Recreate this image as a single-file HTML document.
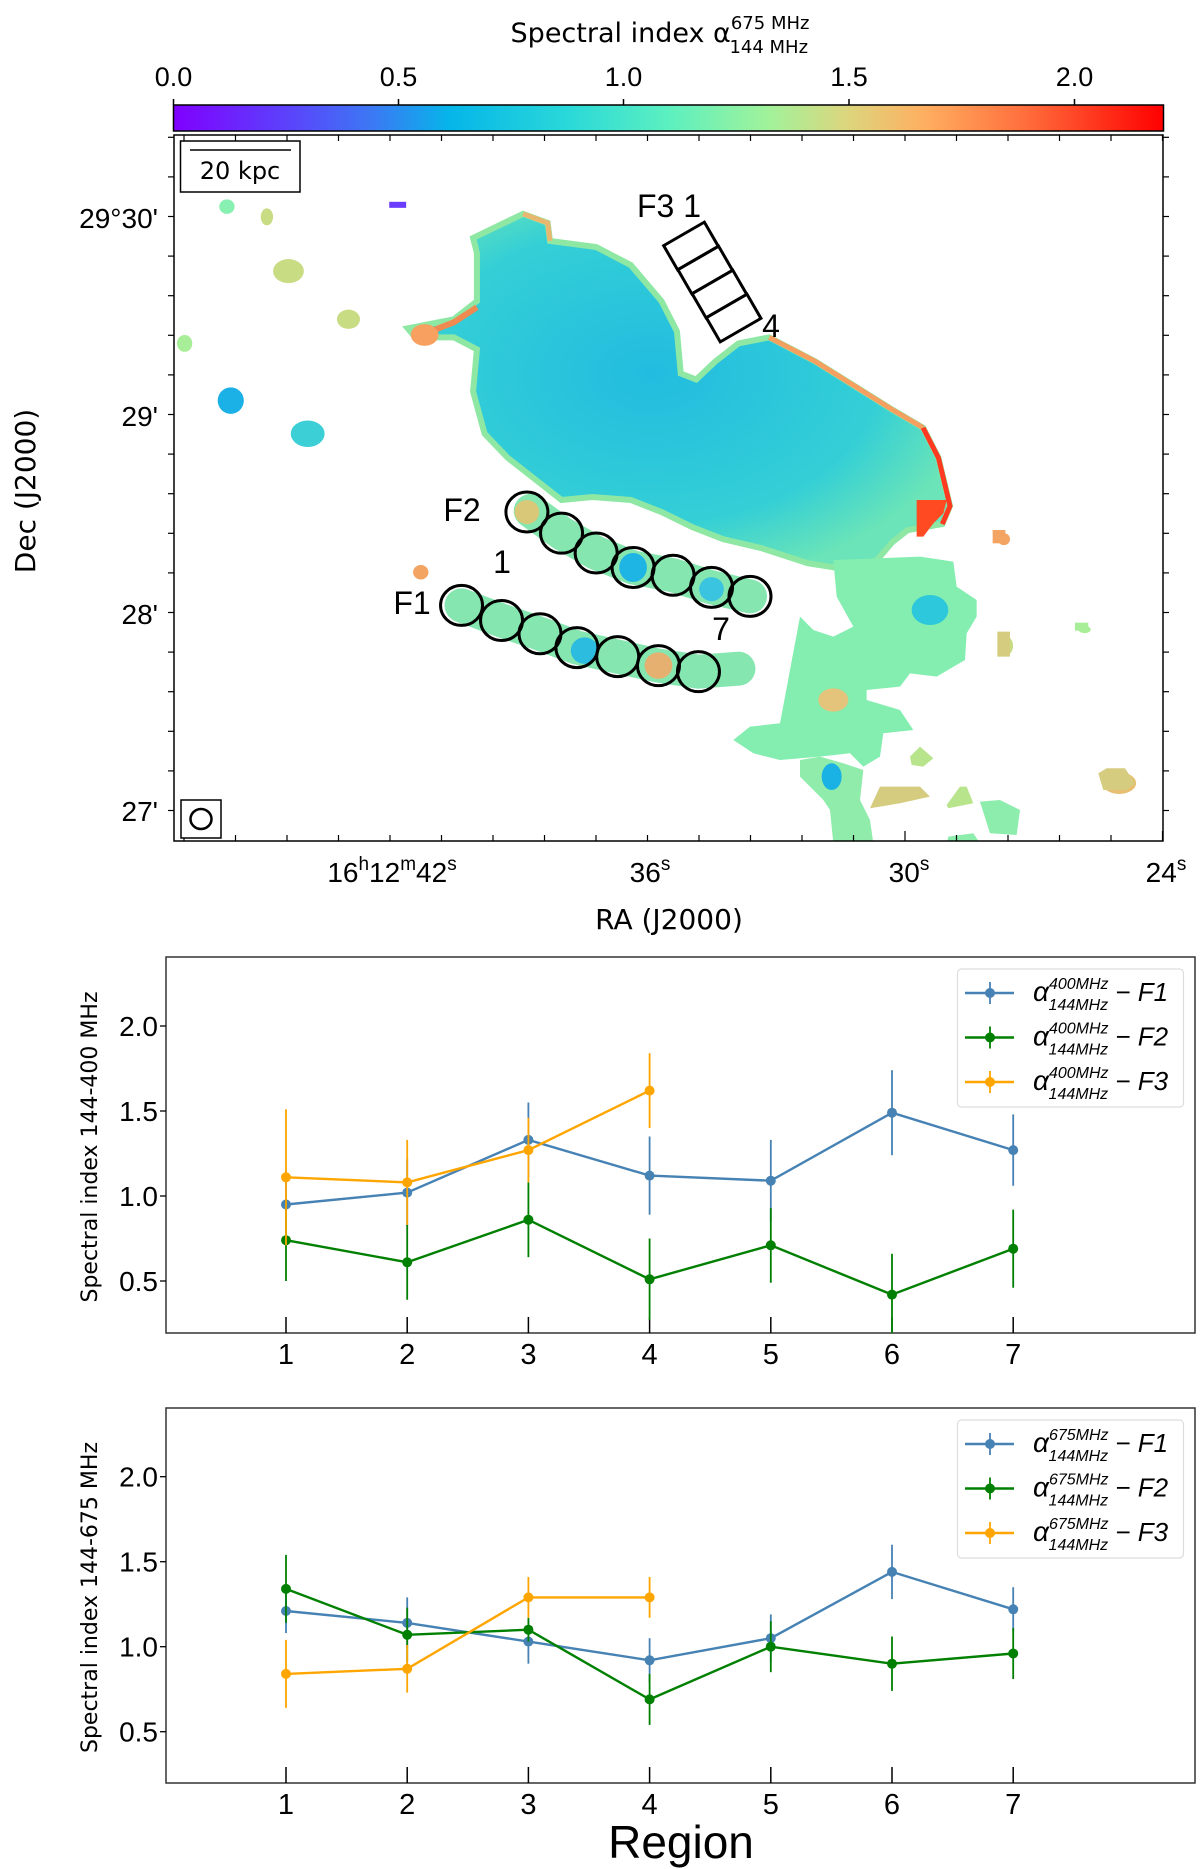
<!DOCTYPE html>
<html><head><meta charset="utf-8"><style>
html,body{margin:0;padding:0;background:#fff}
svg{display:block}
text{font-family:"Liberation Sans","DejaVu Sans",sans-serif;fill:#000}
.dj{font-family:"DejaVu Sans","Liberation Sans",sans-serif}
</style></head><body>
<svg id="fig" width="1200" height="1869" viewBox="0 0 1200 1869" xmlns="http://www.w3.org/2000/svg">
<defs>
<linearGradient id="rainbow" x1="0" x2="1" y1="0" y2="0">
<stop offset="0" stop-color="#8000ff"/><stop offset="0.12" stop-color="#5a45fb"/><stop offset="0.2" stop-color="#3c78f4"/>
<stop offset="0.28" stop-color="#05b6e9"/><stop offset="0.4" stop-color="#2ad9d8"/><stop offset="0.5" stop-color="#5cf0c0"/>
<stop offset="0.6" stop-color="#a0f29a"/><stop offset="0.68" stop-color="#dcd67e"/><stop offset="0.76" stop-color="#ffae60"/>
<stop offset="0.86" stop-color="#ff6e3c"/><stop offset="1" stop-color="#ff0000"/>
</linearGradient>
<radialGradient id="blobfill" cx="0.45" cy="0.45" r="0.6">
<stop offset="0" stop-color="#22bce0"/><stop offset="0.7" stop-color="#34cfd6"/><stop offset="1" stop-color="#6ae4b8"/>
</radialGradient>
</defs>

<!-- colorbar -->
<g>
<text class="dj" x="660" y="42" font-size="27" text-anchor="middle">Spectral index α<tspan font-size="18" dy="-13">675 MHz</tspan><tspan font-size="18" dx="-80" dy="24">144 MHz</tspan></text>
<rect x="173.5" y="105" width="990" height="26" fill="url(#rainbow)" stroke="#000" stroke-width="1.5"/>
<g class="dj" font-size="27" text-anchor="middle">
<text x="173.5" y="86">0.0</text><text x="398.5" y="86">0.5</text><text x="623.5" y="86">1.0</text><text x="849" y="86">1.5</text><text x="1074.5" y="86">2.0</text>
</g>
<path d="M173.5 99v6M398.5 99v6M623.5 99v6M849 99v6M1074.5 99v6" stroke="#000" stroke-width="1.5"/>
</g>

<!-- map -->
<g>
<clipPath id="mapclip"><rect x="174" y="135" width="989" height="706"/></clipPath>
<g clip-path="url(#mapclip)">
<g transform="scale(0.76923,0.60241)">
<path d="M615 395 L680 355 L712 370 L715 400 L775 410 L820 440 L860 500 L880 550 L885 620 L905 630 L930 600 L960 570 L1000 560 L1060 600 L1110 640 L1160 680 L1200 710 L1220 760 L1235 840 L1225 870 L1180 880 L1160 900 L1140 930 L1100 945 L1050 935 L990 910 L940 895 L900 875 L860 850 L820 830 L770 825 L730 830 L700 800 L660 760 L630 720 L615 650 L620 580 L590 560 L540 560 L530 545 L590 530 L620 500 L620 420 Z" fill="url(#blobfill)" stroke="#8ee8a4" stroke-width="6" vector-effect="non-scaling-stroke"/>
<path d="M1000 560 L1060 600 L1110 640 L1160 680 L1200 710" fill="none" stroke="#f5a060" stroke-width="5" vector-effect="non-scaling-stroke"/>
<path d="M1200 710 L1220 760 L1235 840 L1225 870" fill="none" stroke="#ff3a20" stroke-width="5" vector-effect="non-scaling-stroke"/>
<path d="M540 560 L590 535 L620 510" fill="none" stroke="#f08a50" stroke-width="6" vector-effect="non-scaling-stroke"/>
<path d="M680 355 L712 370 L715 400" fill="none" stroke="#e8b870" stroke-width="5" vector-effect="non-scaling-stroke"/>
<path d="M690 848 L730 885 L775 918 L823 942 L875 955 L925 975 L975 990" fill="none" stroke="#86e6b0" stroke-width="34" vector-effect="non-scaling-stroke" stroke-linecap="round"/>
<path d="M600 1005 L652 1030 L702 1052 L750 1075 L803 1090 L856 1105 L908 1115 L960 1110" fill="none" stroke="#86e6b0" stroke-width="34" vector-effect="non-scaling-stroke" stroke-linecap="round"/>
<ellipse cx="823" cy="942" rx="18" ry="24" fill="#1eb4e4"/>
<ellipse cx="925" cy="978" rx="16" ry="20" fill="#3ac4e0"/>
<ellipse cx="760" cy="1080" rx="18" ry="22" fill="#2cbce0"/>
<ellipse cx="856" cy="1105" rx="18" ry="22" fill="#e6b070"/>
<ellipse cx="685" cy="850" rx="16" ry="20" fill="#d8c878"/>
<ellipse cx="300" cy="665" rx="17" ry="22" fill="#1bb0e6"/>
<ellipse cx="400" cy="720" rx="22" ry="22" fill="#3ccfd6"/>
<ellipse cx="375" cy="450" rx="20" ry="20" fill="#c8dc84"/>
<ellipse cx="453" cy="530" rx="15" ry="16" fill="#c8dc84"/>
<ellipse cx="552" cy="556" rx="18" ry="18" fill="#f7a060"/>
<ellipse cx="240" cy="570" rx="10" ry="14" fill="#a8ee98"/>
<ellipse cx="295" cy="343" rx="10" ry="12" fill="#88f0b0"/>
<ellipse cx="347" cy="360" rx="8" ry="14" fill="#c8dc84"/>
<rect x="506" y="335" width="22" height="10" fill="#6a3cfb"/>
<ellipse cx="547" cy="950" rx="10" ry="12" fill="#f3a462"/>
<ellipse cx="1305" cy="895" rx="8" ry="10" fill="#f3a462"/>
<ellipse cx="1410" cy="1045" rx="8" ry="6" fill="#a8ee98"/>
<ellipse cx="1310" cy="1072" rx="7" ry="14" fill="#c8dc84"/>
<ellipse cx="1455" cy="1300" rx="22" ry="18" fill="#e6c070"/>
</g>
<g transform="translate(800,500) scale(0.3333)">
<path d="M100 180 L360 170 L460 185 L470 260 L530 300 L530 350 L500 400 L495 480 L410 530 L330 520 L300 560 L200 570 L200 600 L300 630 L340 690 L250 700 L240 770 L190 800 L150 760 L60 770 L-60 780 L-140 760 L-200 720 L-150 680 L-60 670 L0 350 L40 390 L100 410 L160 380 L110 290 Z" fill="#84eeb0"/>
<ellipse cx="390" cy="330" rx="55" ry="45" fill="#2ec8dc"/>
<ellipse cx="100" cy="600" rx="45" ry="35" fill="#e4c47a"/>
<path d="M0 780 L60 770 L130 790 L190 810 L180 900 L210 960 L220 1030 L100 1030 L90 930 L70 900 L0 830 Z" fill="#90ecaa"/>
<ellipse cx="95" cy="830" rx="30" ry="40" fill="#1ab2e4"/>
<path d="M240 860 L360 860 L390 890 L300 910 L210 925 Z" fill="#d6cc80"/>
<path d="M540 905 L600 900 L660 930 L650 1005 L570 1000 Z" fill="#8cedac"/>
<path d="M895 820 L920 805 L975 805 L1005 850 L980 870 L910 870 Z" fill="#d6cc80"/>
<path d="M330 770 L360 740 L400 775 L370 800 L335 795 Z" fill="#b8e48c"/>
<path d="M445 1010 L520 1000 L540 1030 L440 1030 Z" fill="#8cedac"/>
<path d="M480 860 L500 860 L520 910 L445 925 L440 915 Z" fill="#b8e48c"/>
<rect x="578" y="90" width="38" height="40" fill="#f3a462"/>
<rect x="825" y="368" width="40" height="24" fill="#a8ee98"/>
<rect x="592" y="395" width="38" height="75" fill="#d6cc80"/>
<path d="M350 0 L440 0 L430 40 L400 70 L370 110 L350 110 Z" fill="#ff4a22"/>
</g>
</g>
<rect x="174" y="135" width="989" height="706" fill="none" stroke="#000" stroke-width="1.5"/>
<g id="mapticks" stroke="#000" stroke-width="1.2"></g>
<g>
<rect x="180.5" y="141" width="119.5" height="51" fill="#fff" stroke="#000" stroke-width="1.5"/>
<line x1="190" y1="150" x2="291" y2="150" stroke="#000" stroke-width="1.5"/>
<text class="dj" x="240" y="179" font-size="24" text-anchor="middle">20 kpc</text>
</g>
<g>
<rect x="181" y="800" width="40" height="38" fill="#fff" stroke="#000" stroke-width="1.5"/>
<ellipse cx="201" cy="819" rx="10.5" ry="10" fill="none" stroke="#000" stroke-width="2.5"/>
</g>
<g id="regions" fill="none" stroke="#000" stroke-width="3"></g>
<g class="dj" font-size="32">
<text x="462" y="521" text-anchor="middle">F2</text>
<text x="502" y="573" text-anchor="middle">1</text>
<text x="412" y="614" text-anchor="middle">F1</text>
<text x="721" y="640" text-anchor="middle">7</text>
<text x="669" y="217" text-anchor="middle">F3 1</text>
<text x="771" y="337" text-anchor="middle">4</text>
</g>
<g class="dj" font-size="28" text-anchor="end">
<text x="158" y="228">29°30'</text><text x="158" y="426">29'</text><text x="158" y="624">28'</text><text x="158" y="821">27'</text>
</g>
<g class="dj" font-size="28" text-anchor="middle">
<text x="392" y="882">16<tspan font-size="19" dy="-12">h</tspan><tspan dy="12">12</tspan><tspan font-size="19" dy="-12">m</tspan><tspan dy="12">42</tspan><tspan font-size="19" dy="-12">s</tspan></text>
<text x="650" y="882">36<tspan font-size="19" dy="-12">s</tspan></text>
<text x="909" y="882">30<tspan font-size="19" dy="-12">s</tspan></text>
<text x="1166" y="882">24<tspan font-size="19" dy="-12">s</tspan></text>
</g>
<text class="dj" x="669" y="929" font-size="28" text-anchor="middle">RA (J2000)</text>
<text class="dj" transform="translate(35,491) rotate(-90)" font-size="28" text-anchor="middle">Dec (J2000)</text>
</g>

<g id="p400"></g>
<g id="p675"></g>
<text x="681" y="1858" font-size="46" text-anchor="middle">Region</text>
</svg>
<script>
// ---- chart data ----
const regions = [1,2,3,4,5,6,7];
const yTicks = [0.5,1.0,1.5,2.0];
const yTickLabels = ["0.5","1.0","1.5","2.0"];
const f1_400 = [0.95,1.02,1.33,1.12,1.09,1.49,1.27];
const f1_400_err = [0.2,0.2,0.22,0.23,0.24,0.25,0.21];
const f2_400 = [0.74,0.61,0.86,0.51,0.71,0.42,0.69];
const f2_400_err = [0.24,0.22,0.22,0.24,0.22,0.24,0.23];
const f3_400 = [1.11,1.08,1.27,1.62];
const f3_400_err = [0.4,0.25,0.19,0.22];
const f1_675 = [1.21,1.14,1.03,0.92,1.05,1.44,1.22];
const f1_675_err = [0.13,0.15,0.13,0.13,0.14,0.16,0.13];
const f2_675 = [1.34,1.07,1.10,0.69,1.0,0.9,0.96];
const f2_675_err = [0.2,0.16,0.07,0.15,0.15,0.16,0.15];
const f3_675 = [0.84,0.87,1.29,1.29];
const f3_675_err = [0.2,0.14,0.12,0.12];

const NS='http://www.w3.org/2000/svg';
function mk(tag, attrs, parent){const e=document.createElementNS(NS,tag);for(const k in attrs)e.setAttribute(k,attrs[k]);parent.appendChild(e);return e;}

// map ticks
const mt=document.getElementById('mapticks');
for(let x=802;x<1165;x+=51.5){const maj=Math.abs(((x-390.5)%257.5+257.5)%257.5)<4||Math.abs(((x-390.5)%257.5+257.5)%257.5-257.5)<4;
  mk('line',{x1:x,y1:841,x2:x,y2:maj?831:835},mt);mk('line',{x1:x,y1:135,x2:x,y2:141},mt);}
for(let x=802-51.5;x>174;x-=51.5){mk('line',{x1:x,y1:841,x2:x,y2:835},mt);mk('line',{x1:x,y1:135,x2:x,y2:141},mt);}
for(let i=-3;i<20;i++){const y=216.5+i*39.6; if(y<136||y>840)continue;
  mk('line',{x1:174,y1:y,x2:168,y2:y},mt);mk('line',{x1:1163,y1:y,x2:1169,y2:y},mt);}

// regions
const rg=document.getElementById('regions');
const f2c=[[685,850],[730,885],[775,918],[823,942],[875,955],[925,975],[975,990]];
const f1c=[[600,1005],[652,1030],[702,1052],[750,1075],[803,1090],[856,1105],[908,1115]];
f2c.forEach(c=>{const e=mk('ellipse',{cx:c[0]/1.3,cy:c[1]/1.66,rx:21,ry:20},rg);

});
f1c.forEach(c=>{const e=mk('ellipse',{cx:c[0]/1.3,cy:c[1]/1.66,rx:21,ry:20},rg);

});
for(let i=0;i<4;i++){const cx=691+i*14.2,cy=246+i*24;
 const e=mk('rect',{x:-23.5,y:-14,width:47,height:28,transform:`translate(${cx},${cy}) rotate(-30)`},rg);
 
 }

function panel(id, top, bottom, y1, freq, series){
  const g=document.getElementById(id);
  const L=166,R=1195;
  const xs=r=>286+(r-1)*121.2;
  const ys=v=>y1-(v-1)*170;
  const frame=mk('rect',{x:L,y:top,width:R-L,height:bottom-top,fill:'none',stroke:'#333','stroke-width':1.5},g);
  
  
  yTicks.forEach((t,i)=>{const y=ys(t);
    mk('line',{x1:L-6,y1:y,x2:L,y2:y,stroke:'#000','stroke-width':1.3},g);
    const tx=mk('text',{x:L-8,y:y+10,'font-size':28,'text-anchor':'end'},g);tx.textContent=yTickLabels[i];
    
    });
  regions.forEach(r=>{const x=xs(r);
    mk('line',{x1:x,y1:bottom,x2:x,y2:bottom-16,stroke:'#000','stroke-width':1.5},g);
    const tx=mk('text',{x:x,y:bottom+31,'font-size':29,'text-anchor':'middle'},g);tx.textContent=r;
    
    });
  const yl=mk('text',{transform:`translate(97,${(top+bottom)/2+2}) rotate(-90)`,'font-size':22,'text-anchor':'middle','class':'dj'},g);
  yl.textContent='Spectral index 144-'+freq+' MHz';
  
  
  series.forEach(s=>{
    const sg=mk('g',{},g);
    
    
    let d='';
    s.vals.forEach((v,i)=>{d+=(i?'L':'M')+xs(regions[i])+' '+ys(v);});
    mk('path',{d:d,fill:'none',stroke:s.color,'stroke-width':2.4},sg);
    s.vals.forEach((v,i)=>{const x=xs(regions[i]);
      const eb=mk('line',{x1:x,y1:Math.min(bottom,ys(v-s.err[i])),x2:x,y2:ys(v+s.err[i]),stroke:s.color,'stroke-width':1.8},sg);
      
      
      const c=mk('circle',{cx:x,cy:ys(v),r:5,fill:s.color},sg);
      
      });
  });
  // legend
  const lg=mk('g',{},g);
  
  
  mk('rect',{x:957.5,y:top+12,width:226,height:138,rx:4,fill:'#fff',stroke:'#ddd','stroke-width':1.2},lg);
  series.forEach((s,i)=>{const y=top+36+i*44.5;
    const le=mk('g',{},lg);
    
    
    mk('line',{x1:965,y1:y,x2:1014,y2:y,stroke:s.color,'stroke-width':2.4},le);
    mk('line',{x1:990,y1:y-11,x2:990,y2:y+11,stroke:s.color,'stroke-width':1.8},le);
    mk('circle',{cx:990,cy:y,r:5,fill:s.color},le);
    const t=mk('text',{x:1033,y:y+8,'font-size':28,'font-style':'italic'},le);
    t.innerHTML='α<tspan font-size="16" dy="-12">'+freq+'MHz</tspan><tspan font-size="16" dx="-60" dy="21">144MHz</tspan><tspan font-size="26" dy="-9"> − '+s.name+'</tspan>';
  });
}
panel('p400',957,1333,1196,'400',[
 {name:'F1',color:'#4682b4',vals:f1_400,err:f1_400_err},
 {name:'F2',color:'#008000',vals:f2_400,err:f2_400_err},
 {name:'F3',color:'#ffa500',vals:f3_400,err:f3_400_err}]);
panel('p675',1408,1783,1646.7,'675',[
 {name:'F1',color:'#4682b4',vals:f1_675,err:f1_675_err},
 {name:'F2',color:'#008000',vals:f2_675,err:f2_675_err},
 {name:'F3',color:'#ffa500',vals:f3_675,err:f3_675_err}]);
</script>
</body></html>
